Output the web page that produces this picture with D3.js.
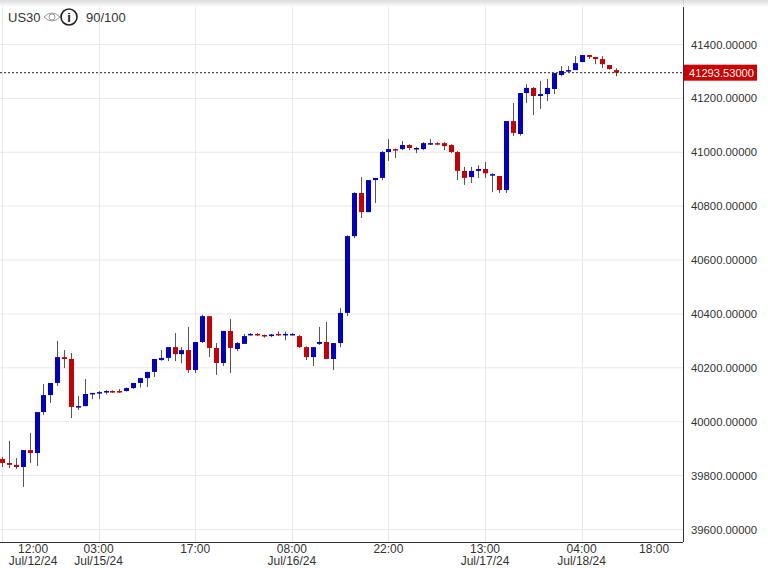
<!DOCTYPE html>
<html><head><meta charset="utf-8">
<script src="https://cdn.jsdelivr.net/npm/d3@7"></script>
<style>
body{margin:0;background:#fff;font-family:"Liberation Sans",Arial,sans-serif}
svg{display:block}
</style></head>
<body><svg width="768" height="568"></svg>
<script>
// hourly candles, US30
var opens  = [39860,39845,39838,39830,39893,39882,40034,40097,40142,40238,40231,40053,40056,40101,40105,40108,40112,40112,40112,40123,40142,40160,40183,40227,40235,40275,40249,40264,40190,40294,40390,40272,40216,40335,40268,40287,40320,40324,40320,40316,40324,40320,40320,40316,40275,40238,40287,40294,40231,40290,40402,40687,40847,40776,40895,40903,40999,41010,41010,41025,41010,41010,41028,41032,41032,41025,40999,40929,40906,40929,40936,40913,40910,40858,41114,41066,41218,41237,41207,41214,41233,41285,41300,41303,41333,41359,41352,41344,41322,41303];
var highs  = [39867,39927,39863,39893,39956,40034,40138,40142,40298,40264,40253,40094,40157,40105,40112,40115,40115,40120,40125,40142,40160,40183,40231,40264,40275,40327,40275,40350,40294,40395,40390,40290,40335,40379,40294,40324,40327,40327,40322,40324,40333,40333,40327,40320,40278,40275,40350,40368,40290,40420,40690,40850,40906,40895,40903,41003,41047,41012,41040,41028,41018,41036,41047,41036,41036,41028,41003,40944,40944,40950,40962,40920,40910,41114,41181,41218,41251,41240,41263,41270,41292,41318,41318,41355,41359,41359,41352,41355,41322,41310];
var lows   = [39830,39826,39823,39756,39845,39834,40023,40068,40131,40197,40012,40042,40056,40082,40082,40100,40105,40105,40110,40120,40125,40127,40164,40225,40223,40223,40215,40179,40179,40290,40238,40172,40205,40179,40260,40287,40318,40316,40310,40312,40316,40300,40318,40272,40227,40205,40283,40231,40190,40275,40390,40680,40754,40776,40810,40895,40966,40977,41006,41006,40995,41006,41025,41025,41006,40995,40895,40877,40884,40903,40903,40850,40847,40847,41058,41060,41181,41136,41159,41188,41214,41280,41296,41303,41333,41344,41325,41311,41305,41280];
var closes = [39845,39838,39830,39893,39882,40034,40097,40142,40238,40231,40053,40056,40101,40105,40108,40112,40108,40108,40123,40142,40160,40183,40231,40235,40275,40249,40264,40190,40294,40390,40272,40216,40335,40272,40290,40316,40324,40320,40316,40322,40320,40324,40324,40275,40238,40275,40294,40231,40290,40402,40687,40847,40776,40895,40903,40999,41010,41006,41025,41014,41014,41032,41032,41028,41021,40999,40929,40903,40929,40936,40920,40917,40858,41114,41070,41218,41237,41207,41214,41237,41292,41300,41303,41329,41359,41352,41344,41325,41307,41293.53];
var lastPrice = 41293.53;
var priceTicks = [39600,39800,40000,40200,40400,40600,40800,41000,41200,41400,41600];
var timeTicks = [4.5,14,28,42,56,70,84,94.5];
var timeLabels = [["12:00","Jul/12/24"],["03:00","Jul/15/24"],["17:00",""],["08:00","Jul/16/24"],["22:00",""],["13:00","Jul/17/24"],["04:00","Jul/18/24"],["18:00",""]];
var gridIdx = [0,14,28,42,56,70,84];

var candles = opens.map(function(o,i){return {i:i,o:o,h:highs[i],l:lows[i],c:closes[i]}});

var svg = d3.select("svg");
var plotR = 683, plotB = 542;
var x = d3.scaleLinear().domain([0,1]).range([2,8.9]);
var y = d3.scaleLinear().domain([39600,41400]).range([529,44]);
var narrow = "'Liberation Sans Narrow','Arial Narrow',sans-serif";

var defs = svg.append("defs");
var g0 = defs.append("linearGradient").attr("id","sh").attr("x1",0).attr("y1",0).attr("x2",0).attr("y2",1);
g0.append("stop").attr("offset",0).attr("stop-color","#d8d8d8");
g0.append("stop").attr("offset",1).attr("stop-color","#fff");
defs.append("clipPath").attr("id","clip").append("rect").attr("x",0).attr("y",0).attr("width",plotR).attr("height",plotB);

// grid
svg.selectAll(".hg").data(priceTicks).enter().append("line")
  .attr("x1",0).attr("x2",plotR).attr("y1",d=>y(d)+0.5).attr("y2",d=>y(d)+0.5)
  .attr("stroke","#e8e8e8");
svg.selectAll(".vg").data(gridIdx).enter().append("line")
  .attr("x1",d=>Math.round(x(d))+0.5).attr("x2",d=>Math.round(x(d))+0.5).attr("y1",0).attr("y2",plotB)
  .attr("stroke","#e8e8e8");

// candles
var cg = svg.append("g").attr("clip-path","url(#clip)");
cg.selectAll(".wick").data(candles).enter().append("line")
  .attr("x1",d=>Math.round(x(d.i))+0.5).attr("x2",d=>Math.round(x(d.i))+0.5)
  .attr("y1",d=>y(d.h)).attr("y2",d=>y(d.l)).attr("stroke","#555").attr("stroke-width",1);
cg.selectAll(".body").data(candles).enter().append("rect")
  .attr("x",d=>Math.round(x(d.i))-2).attr("width",5)
  .attr("y",d=>y(Math.max(d.o,d.c)))
  .attr("height",d=>Math.max(1.5,Math.abs(y(d.o)-y(d.c))))
  .attr("fill",d=>d.c>=d.o?"#0000c4":"#c40000");

// last price line
svg.append("line").attr("x1",0).attr("x2",plotR).attr("y1",y(lastPrice)).attr("y2",y(lastPrice))
  .attr("stroke","#222").attr("stroke-dasharray","2,2");

// axes
svg.append("line").attr("x1",plotR+0.5).attr("x2",plotR+0.5).attr("y1",0).attr("y2",plotB).attr("stroke","#333");
svg.append("line").attr("x1",0).attr("x2",plotR).attr("y1",plotB+0.5).attr("y2",plotB+0.5).attr("stroke","#333");
svg.selectAll(".pl").data(priceTicks).enter().append("text")
  .attr("x",691).attr("y",d=>y(d)+4.5).attr("font-size",11.5).attr("fill","#333")
  .attr("textLength",66).attr("lengthAdjust","spacingAndGlyphs")
  .text(d=>d3.format(".5f")(d));
svg.append("rect").attr("x",684).attr("y",y(lastPrice)-8).attr("width",73).attr("height",16).attr("fill","#cc0000");
svg.append("text").attr("x",689).attr("y",y(lastPrice)+4.5).attr("font-size",11.5).attr("fill","#fff")
  .attr("textLength",65).attr("lengthAdjust","spacingAndGlyphs")
  .text(d3.format(".5f")(lastPrice));
svg.append("rect").attr("x",0).attr("y",0).attr("width",768).attr("height",7).attr("fill","url(#sh)").attr("opacity",0.9);

var tl = svg.selectAll(".tl").data(timeTicks).enter().append("g")
  .attr("transform",d=>"translate("+x(d)+",0)");
tl.append("text").attr("y",553).attr("text-anchor","middle").attr("font-size",12).attr("font-family",narrow).attr("fill","#333")
  .text((d,i)=>timeLabels[i][0]);
tl.append("text").attr("y",565).attr("text-anchor","middle").attr("font-size",12).attr("font-family",narrow).attr("fill","#333")
  .text((d,i)=>timeLabels[i][1]);

// header
svg.append("text").attr("x",8).attr("y",22).attr("font-size",13).attr("fill","#333").text("US30");
var eye = svg.append("g").attr("transform","translate(52,17)");
eye.append("path").attr("d","M-8,0 Q0,-8 8,0 Q0,8 -8,0Z").attr("fill","none").attr("stroke","#999");
eye.append("circle").attr("r",3).attr("fill","none").attr("stroke","#999");
var inf = svg.append("g").attr("transform","translate(69,17)");
inf.append("circle").attr("r",8).attr("fill","none").attr("stroke","#222").attr("stroke-width",1.6);
inf.append("text").attr("y",5).attr("text-anchor","middle").attr("font-size",13).attr("font-weight","bold").attr("fill","#222").text("i");
svg.append("text").attr("x",86).attr("y",22).attr("font-size",13).attr("fill","#333").text("90/100");
</script></body></html>
